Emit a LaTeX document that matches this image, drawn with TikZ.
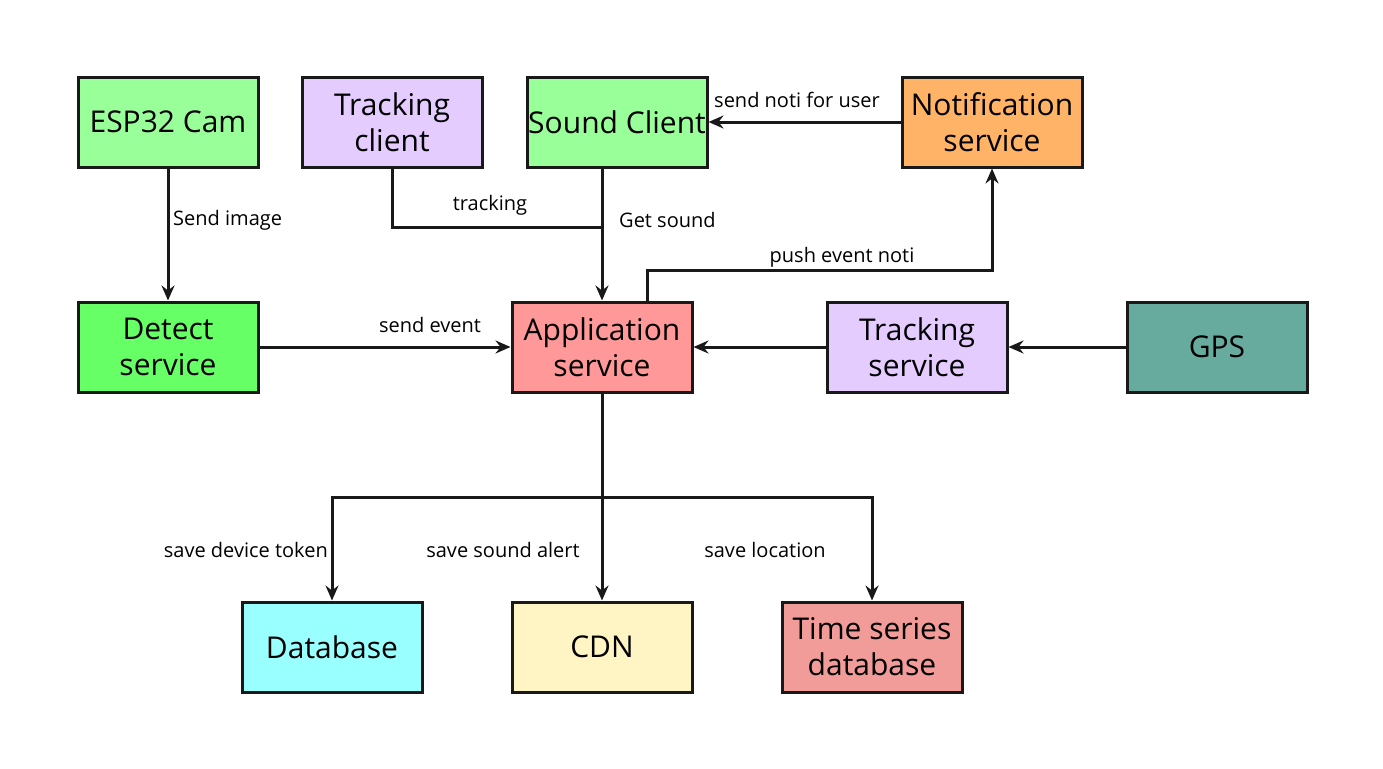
\documentclass[tikz,border=0pt]{standalone}
\usepackage{fontspec}
\setmainfont{Open Sans}
\usetikzlibrary{arrows.meta}
\definecolor{cgreen}{HTML}{99FF99}
\definecolor{cpurple}{HTML}{E5CCFF}
\definecolor{corange}{HTML}{FFB366}
\definecolor{cdetect}{HTML}{66FF66}
\definecolor{cred}{HTML}{FF9999}
\definecolor{cgps}{HTML}{67AB9F}
\definecolor{ccyan}{HTML}{99FFFF}
\definecolor{cyellow}{HTML}{FFF4C3}
\definecolor{cts}{HTML}{F19C99}
\tikzset{
  box/.style={draw=black!90, line width=3pt, minimum width=180pt, minimum height=90pt,
    inner sep=0pt, align=center, font=\fontsize{30}{36}\selectfont},
  conn/.style={line width=3pt, draw=black!90, -{Stealth[length=15pt,width=13pt,inset=5pt]}},
  plain/.style={line width=3pt, draw=black!90},
  lbl/.style={font=\fontsize{20}{24}\selectfont, inner sep=0pt}
}
\begin{document}
\begin{tikzpicture}[x=1pt,y=-1pt]
\useasboundingbox (0,0) rectangle (1383,768);
\node[box, fill=cgreen]  (esp)   at (168,122) {ESP32 Cam};
\node[box, fill=cpurple] (tcl)   at (392,122) {Tracking\\client};
\node[box, fill=cgreen]  (snd)   at (617,122) {Sound Client};
\node[box, fill=corange] (noti)  at (992,122) {Notification\\service};
\node[box, fill=cdetect] (det)   at (168,347) {Detect\\service};
\node[box, fill=cred]    (app)   at (602,347) {Application\\service};
\node[box, fill=cpurple] (tsv)   at (917,347) {Tracking\\service};
\node[box, fill=cgps]    (gps)   at (1217,347) {GPS};
\node[box, fill=ccyan]   (db)    at (332,647) {Database};
\node[box, fill=cyellow] (cdn)   at (602,647) {CDN};
\node[box, fill=cts]     (tsdb)  at (872,647) {Time series\\database};

\coordinate (tj) at (602,227);
\coordinate (bj) at (602,497);

% ESP32 -> Detect
\draw[conn] (esp) -- (det);
\node[lbl, anchor=west] (si) at (173,220) {Send image};
% Tracking client -> junction
\draw[plain] (tcl.south) |- (tj);
\node[lbl] (tr) at (490,205) {tracking};
% Sound client -> application
\draw[conn] (snd.south -| app) -- (app.north);
\node[lbl, anchor=west] (gs) at (619,220) {Get sound};
% Notification -> Sound client
\draw[conn] (noti.west) -- (snd.east);
\node[lbl] (snu) at (797,100) {send noti for user};
% Application -> Notification
\draw[conn] ([xshift=45pt]app.north) |- (992,270) -- (noti.south);
\node[lbl] (pen) at (842,257) {push event noti};
% Detect -> Application
\draw[conn] (det.east) -- (app.west);
\node[lbl] (se) at (430,325) {send event};
% Tracking service -> Application
\draw[conn] (tsv.west) -- (app.east);
% GPS -> Tracking service
\draw[conn] (gps.west) -- (tsv.east);
% Application -> stores
\draw[plain] (app.south) -- (bj);
\draw[conn] (bj) -| (db.north);
\draw[conn] (bj) -- (cdn.north);
\draw[conn] (bj) -| (tsdb.north);
\node[lbl, anchor=east] (l1) at (328,550) {save device token};
\node[lbl] (l2) at (503,550) {save sound alert};
\node[lbl] (l3) at (765,550) {save location};
\end{tikzpicture}
\end{document}
